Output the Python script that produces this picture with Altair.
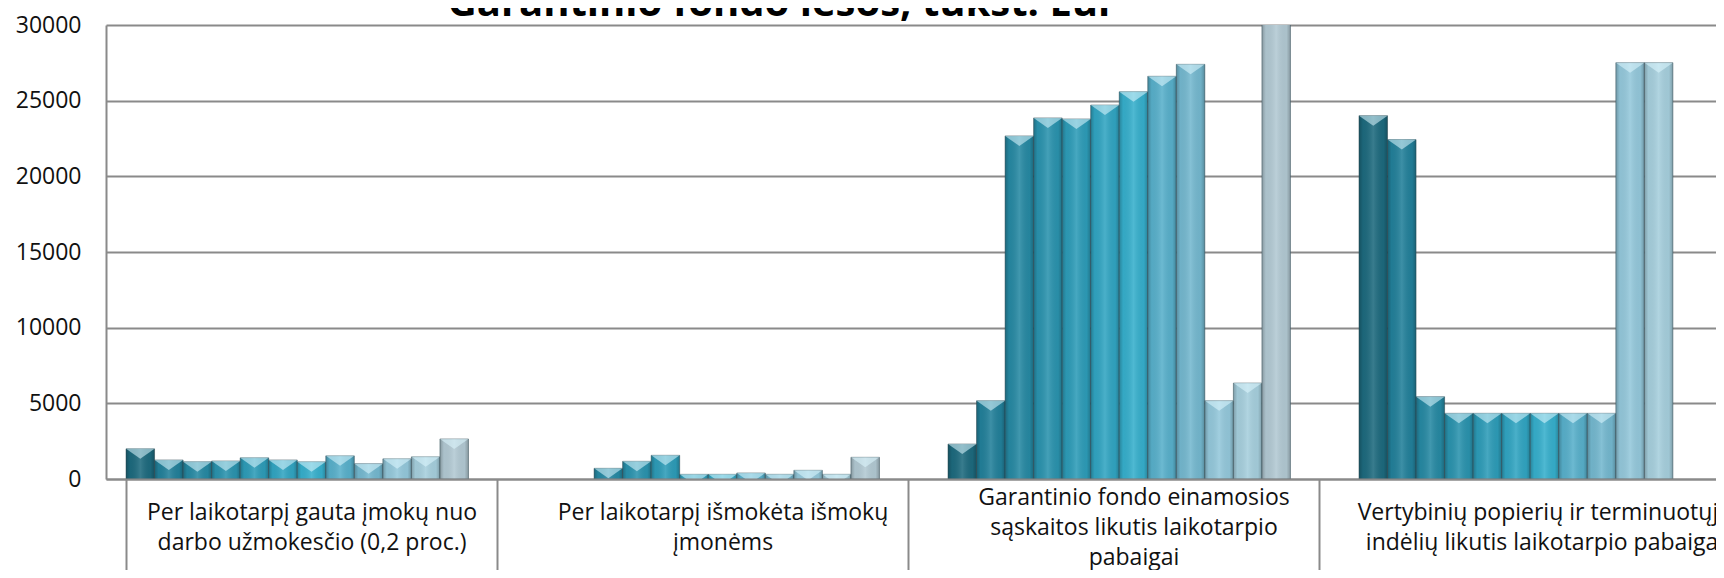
import altair as alt
import pandas as pd

# ---- data -------------------------------------------------------------
title_text = ["Garantinio fondo lėšos, tūkst. Eur"]

categories = [
    "Per laikotarpį gauta įmokų nuo|darbo užmokesčio (0,2 proc.)",
    "Per laikotarpį išmokėta išmokų|įmonėms",
    "Garantinio fondo einamosios|sąskaitos likutis laikotarpio|pabaigai",
    "Vertybinių popierių ir terminuotųjų|indėlių likutis laikotarpio pabaigai",
]
series = [str(i) for i in range(1, 14)]

imokos = [1995, 1257, 1135, 1190, 1400, 1257, 1135, 1530, 1012, 1333, 1465, 2645, None]
ismokos = [None, None, 705, 1168, 1565, 308, 308, 397, 308, 573, 308, 1433, None]
einamoji = [2310, 5170, 22670, 23860, 23790, 24710, 25590, 26610, 27400, 5170, 6340, 30700, None]
vertybiniai = [24010, 22430, 5440, 4340, 4340, 4340, 4340, 4340, 4340, 27510, 27510, None, None]

colors = ["#1d6a7e", "#22809a", "#2689a3", "#2a93ae", "#2d9cb8", "#31a5c2", "#36afcc",
          "#58b0cb", "#74b8cf", "#94c8db", "#a6cfdd", "#b2c9d3", "#c5dbe3"]

y_ticks = [0, 5000, 10000, 15000, 20000, 25000, 30000]

rows = []
for cat, vals in zip(categories, [imokos, ismokos, einamoji, vertybiniai]):
    for s, v in zip(series, vals):
        if v is not None:
            rows.append({"kategorija": cat, "serija": s, "reiksme": v})
df = pd.DataFrame(rows)

FONT = "Open Sans"
GRID = "#8a8a8a"
ZW = "\u200b"  # zero-width filler line (half line step)

SP = "split(datum.label, '|')"
label_expr = (
    f"length({SP}) == 3 ? [{SP}[0], '{ZW}', {SP}[1], '{ZW}', {SP}[2]] "
    f": ['{ZW}', {SP}[0], '{ZW}', {SP}[1]]"
)

base = alt.Chart(df).encode(
    x=alt.X(
        "kategorija:N",
        sort=categories,
        scale=alt.Scale(domain=categories, paddingInner=0.0973, paddingOuter=0.0487,
                        range=[0, 1644]),
        axis=alt.Axis(
            title=None,
            labelExpr=label_expr,
            labelAngle=0,
            labelFont=FONT,
            labelFontSize=23,
            labelColor="#111111",
            labelLineHeight=15,
            labelBaseline="middle",
            labelPadding=-81,
            labelLimit=0,
            labelOverlap=False,
            tickBand="extent",
            tickSize=99,
            tickColor=GRID,
            tickWidth=2,
            domainColor=GRID,
            domainWidth=2,
            zindex=1,
        ),
    ),
    xOffset=alt.XOffset(
        "serija:N",
        sort=series,
        scale=alt.Scale(domain=series, paddingInner=0, paddingOuter=0),
    ),
    y=alt.Y(
        "reiksme:Q",
        scale=alt.Scale(domain=[0, 30000], nice=False),
        axis=alt.Axis(
            title=None,
            values=y_ticks,
            format="d",
            grid=True,
            gridColor=GRID,
            gridWidth=2,
            ticks=False,
            domainColor=GRID,
            domainWidth=2,
            labelFont=FONT,
            labelFontSize=23,
            labelColor="#111111",
            labelPadding=25,
        ),
    ),
)

bars = base.mark_bar(clip=True, stroke="#35525c", strokeWidth=1, strokeOpacity=0.5).encode(
    color=alt.Color("serija:N", scale=alt.Scale(domain=series, range=colors), legend=None)
)

shade = base.mark_bar(
    clip=True,
    fill=alt.Gradient(
        gradient="linear",
        x1=0, x2=1, y1=0, y2=0,
        stops=[
            alt.GradientStop(offset=0, color="rgba(0,0,0,0.24)"),
            alt.GradientStop(offset=0.14, color="rgba(0,0,0,0.04)"),
            alt.GradientStop(offset=0.5, color="rgba(255,255,255,0.12)"),
            alt.GradientStop(offset=0.86, color="rgba(0,0,0,0.04)"),
            alt.GradientStop(offset=1, color="rgba(0,0,0,0.24)"),
        ],
    ),
)

bevel = base.mark_point(
    shape="M-1,0L1,0L0,0.7Z",
    size=814,
    filled=True,
    color="#dff8ff",
    opacity=0.55,
    strokeWidth=0,
    clip=True,
).transform_filter(alt.datum.reiksme <= 30000)

title = alt.Chart(pd.DataFrame({"pavadinimas": title_text})).mark_text(
    font=FONT,
    fontSize=40,
    fontWeight="bold",
    color="#000000",
    align="center",
    baseline="alphabetic",
).encode(
    text="pavadinimas:N",
    x=alt.value(676),
    y=alt.value(-9),
)

chart = alt.layer(bars, shade, bevel, title).properties(
    width=1610,
    height=454,
    autosize=alt.AutoSizeParams(type="none"),
    padding={"left": 98, "top": 17, "right": 0, "bottom": 91},
    background="white",
).configure_view(strokeWidth=0)

chart.save("out.html", embed_options={"renderer": "svg", "actions": False})
